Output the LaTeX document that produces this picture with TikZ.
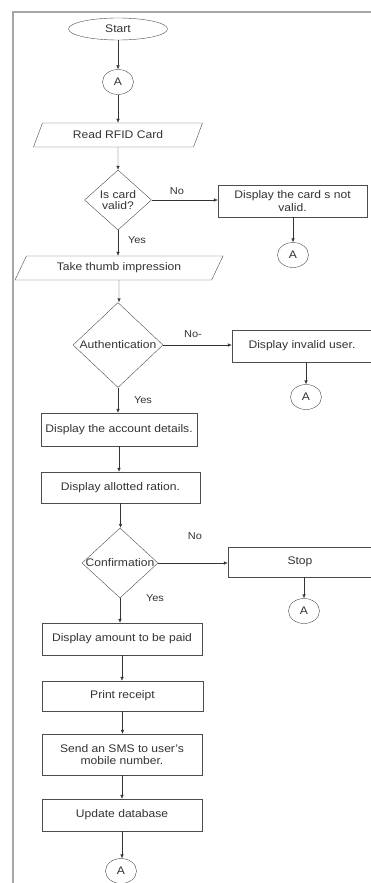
\documentclass[tikz,border=0pt]{standalone}
\usepackage{fontspec}
\setmainfont{Liberation Sans}[FakeStretch=1.1]
\usetikzlibrary{positioning}
\usetikzlibrary{shapes.geometric}
\usetikzlibrary{arrows.meta}

\begin{document}
\begin{tikzpicture}[x=1pt,y=-1pt,
 every node/.style={font=\fontsize{11}{12.5}\selectfont, text=black!80},
 flow/.style={draw=black!80, thin, -{Latex[length=4pt,width=3.5pt]}},
 term/.style={ellipse, draw=black!70, minimum width=99pt, minimum height=22pt, inner sep=0pt},
 conn/.style={ellipse, draw=black!70, minimum width=31pt, minimum height=25pt, inner sep=0pt},
 io/.style={trapezium, trapezium left angle=42, trapezium right angle=138, trapezium stretches body,
   draw=black!70, minimum height=24pt, inner sep=0pt},
 decide/.style={diamond, draw=black!70, inner sep=0pt},
 proc/.style={rectangle, draw=black!70, minimum height=32pt, inner sep=0pt, align=center},
 lbl/.style={font=\fontsize{10}{12}\selectfont}]
 \useasboundingbox (0,0) rectangle (371,883);
 \draw[gray!70, line width=2pt] (13,883) -- (13,12) -- (371,12);

 \node[term] (start) at (118,29) {Start};
 \node[conn] (a1) at (118,82) {A};
 \node[io, minimum width=169pt] (rfid) at (118,135) {Read RFID Card};
 \node[decide, minimum width=67pt, minimum height=60pt] (valid) at (118,200) {\makebox[0pt]{\shortstack{Is card\\valid?}}};
 \node[proc, minimum width=149pt] (notvalid) at (292.5,201) {Display the card s not\\valid.};
 \node[conn] (a2) at (293,255) {A};
 \node[io, minimum width=208pt] (thumb) at (119,268) {Take thumb impression};
 \node[decide, minimum width=90pt, minimum height=85pt] (auth) at (118,345) {\makebox[0pt]{Authentication}};
 \node[proc, minimum width=140pt] (invalid) at (302,346) {Display invalid user.};
 \node[conn] (a3) at (306,397) {A};
 \node[proc, minimum width=156pt, minimum height=33pt] (account) at (119,429.5) {Display the account details.};
 \node[proc, minimum width=159pt, minimum height=31pt] (ration) at (120.5,487.5) {Display allotted ration.};
 \node[decide, minimum width=76pt, minimum height=70pt] (confirm) at (120,563) {\makebox[0pt]{Confirmation}};
 \node[proc, minimum width=144pt, minimum height=30pt] (stop) at (300,562) {Stop};
 \node[conn] (a4) at (304,611) {A};
 \node[proc, minimum width=160pt] (amount) at (122,639) {Display amount to be paid};
 \node[proc, minimum width=161pt, minimum height=30pt] (receipt) at (122.5,696) {Print receipt};
 \node[proc, minimum width=160pt, minimum height=41pt] (sms) at (122,754.5) {Send an SMS to user's\\mobile number.};
 \node[proc, minimum width=160pt] (update) at (122,815) {Update database};
 \node[conn] (a5) at (121,871) {A};

 \node[lbl] (no1) at (177,191) {No};
 \node[lbl] (yes1) at (137,240) {Yes};
 \node[lbl] (no2) at (193,334) {No-};
 \node[lbl] (yes2) at (143,400) {Yes};
 \node[lbl] (no3) at (195,536) {No};
 \node[lbl] (yes3) at (155,598) {Yes};

 \foreach \a/\b in {start/a1, a1/rfid, rfid/valid, valid/thumb, thumb/auth, auth/account,
   account/ration, ration/confirm, confirm/amount, amount/receipt, receipt/sms, sms/update, update/a5}
  \draw[flow] (\a) -- (\a |- \b.north);
 \draw[flow] (valid.east) -- (valid.east -| notvalid.west);
 \draw[flow] (auth.east) -- (auth.east -| invalid.west);
 \draw[flow] (confirm.east) -- (confirm.east -| stop.west);
 \draw[flow] (notvalid.south -| a2) -- (a2);
 \draw[flow] (invalid.south -| a3) -- (a3);
 \draw[flow] (stop.south -| a4) -- (a4);
 \foreach \b in {ration, amount, sms, update}
  \draw[black!70, line width=1.4pt] (\b.north east) -- (\b.south east);
\end{tikzpicture}
\end{document}
